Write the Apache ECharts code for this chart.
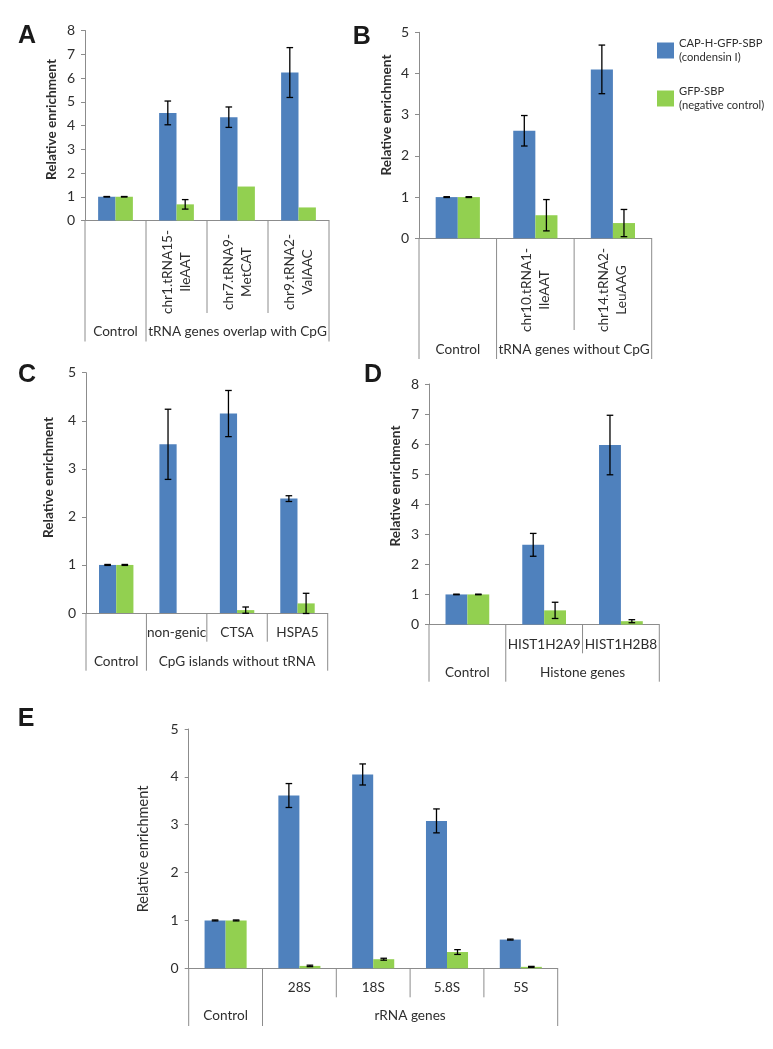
<!DOCTYPE html>
<html><head><meta charset="utf-8">
<script src="https://cdn.jsdelivr.net/npm/echarts@6/dist/echarts.min.js"></script>
<style>html,body{margin:0;padding:0;background:#fff}#c{width:773px;height:1049px}</style>
</head><body><div id="c"></div>
<script>
// ---------- DATA ----------
const seriesNames = ['CAP-H-GFP-SBP (condensin I)', 'GFP-SBP (negative control)'];
const yTitle = 'Relative enrichment';

// Panel A
const catsA = ['', 'chr1.tRNA15-\nIleAAT', 'chr7.tRNA9-\nMetCAT', 'chr9.tRNA2-\nValAAC'];
const groupsA = [['Control', 1], ['tRNA genes overlap with CpG', 3]];
const yTicksA = [0, 1, 2, 3, 4, 5, 6, 7, 8];
const blueA = [1, 4.53, 4.35, 6.23];
const blueErrA = [0.01, 0.5, 0.43, 1.05];
const greenA = [1, 0.68, 1.43, 0.55];
const greenErrA = [0.01, 0.2, null, null];

// Panel B
const catsB = ['', 'chr10.tRNA1-\nIleAAT', 'chr14.tRNA2-\nLeuAAG'];
const groupsB = [['Control', 1], ['tRNA genes without CpG', 2]];
const yTicksB = [0, 1, 2, 3, 4, 5];
const blueB = [1, 2.61, 4.10];
const blueErrB = [0.01, 0.37, 0.59];
const greenB = [1, 0.56, 0.37];
const greenErrB = [0.01, 0.38, 0.33];

// Panel C
const catsC = ['', 'non-genic', 'CTSA', 'HSPA5'];
const groupsC = [['Control', 1], ['CpG islands without tRNA', 3]];
const yTicksC = [0, 1, 2, 3, 4, 5];
const blueC = [1, 3.51, 4.15, 2.38];
const blueErrC = [0.01, 0.73, 0.48, 0.06];
const greenC = [1, 0, 0.06, 0.2];
const greenErrC = [0.01, null, 0.065, 0.21];

// Panel D
const catsD = ['', 'HIST1H2A9', 'HIST1H2B8'];
const groupsD = [['Control', 1], ['Histone genes', 2]];
const yTicksD = [0, 1, 2, 3, 4, 5, 6, 7, 8];
const blueD = [1, 2.65, 5.97];
const blueErrD = [0.01, 0.38, 0.99];
const greenD = [1, 0.47, 0.11];
const greenErrD = [0.01, 0.27, 0.05];

// Panel E
const catsE = ['', '28S', '18S', '5.8S', '5S'];
const groupsE = [['Control', 1], ['rRNA genes', 4]];
const yTicksE = [0, 1, 2, 3, 4, 5];
const blueE = [1, 3.61, 4.05, 3.08, 0.6];
const blueErrE = [0.01, 0.25, 0.22, 0.25, 0.01];
const greenE = [1, 0.05, 0.19, 0.34, 0.03];
const greenErrE = [0.01, 0.015, 0.02, 0.05, 0.01];

// ---------- LAYOUT / STYLE ----------
const BLUE = '#4F81BD', GREEN = '#92D050', AXIS = '#8c8c8c', TXT = '#2e2e2e';
const FONT = 'Lato';
const GAP = 0.43;
const LBL = 13.6;

const panels = [
  {letter:'A', cats:catsA, groups:groupsA, ticks:yTicksA, b:blueA, be:blueErrA, g:greenA, ge:greenErrA,
   grid:{left:85, top:30.5, width:244, height:190}, letterPos:[27,36.5], titlePos:[51.7,119.5],
   rot:true, subOff:51.5, innerLen:92.5, outerLen:121, groupOff:111.5, titleBold:true},
  {letter:'B', cats:catsB, groups:groupsB, ticks:yTicksB, b:blueB, be:blueErrB, g:greenB, ge:greenErrB,
   grid:{left:419, top:32.3, width:232.7, height:206}, letterPos:[361.7,36.7], titlePos:[386.7,115],
   rot:true, subOff:51.7, innerLen:91.7, outerLen:120.7, groupOff:111.7, titleBold:true},
  {letter:'C', cats:catsC, groups:groupsC, ticks:yTicksC, b:blueC, be:blueErrC, g:greenC, ge:greenErrC,
   grid:{left:86, top:372.7, width:241.7, height:240.3}, letterPos:[27,375], titlePos:[48.3,477.5],
   rot:false, subOff:19.3, innerLen:28.7, outerLen:57.7, groupOff:48.7, titleBold:true},
  {letter:'D', cats:catsD, groups:groupsD, ticks:yTicksD, b:blueD, be:blueErrD, g:greenD, ge:greenErrD,
   grid:{left:429, top:384, width:230.3, height:240.5}, letterPos:[373,375], titlePos:[396,486],
   rot:false, subOff:19.8, innerLen:28.8, outerLen:57.2, groupOff:48.2, titleBold:true},
  {letter:'E', cats:catsE, groups:groupsE, ticks:yTicksE, b:blueE, be:blueErrE, g:greenE, ge:greenErrE,
   grid:{left:188.7, top:729, width:369, height:239.3}, letterPos:[26,719], titlePos:[143.3,849],
   rot:false, subOff:19.4, innerLen:29, outerLen:57.7, groupOff:47.7, titleBold:false}
];

function errRender(params, api) {
  const i = api.value(0), v = api.value(1), e = api.value(2), s = api.value(3);
  const bw = api.size([1, 0])[0];
  const barW = bw * (1 - GAP) / 2;
  const p = api.coord([i, v]);
  const x = p[0] + (s === 0 ? -barW / 2 : barW / 2);
  const yt = api.coord([i, v + e])[1], yb = api.coord([i, v - e])[1];
  const cap = 3.3, st = {stroke:'#000', lineWidth:1.3};
  return {type:'group', children:[
    {type:'line', shape:{x1:x, y1:yt, x2:x, y2:yb}, style:st},
    {type:'line', shape:{x1:x-cap, y1:yt, x2:x+cap, y2:yt}, style:st},
    {type:'line', shape:{x1:x-cap, y1:yb, x2:x+cap, y2:yb}, style:st}
  ]};
}

function tableRender(P) {
  const starts = {}; let k = 0;
  P.groups.forEach(g => { starts[k] = g; k += g[1]; });
  const n = P.cats.length;
  return function(params, api) {
    const i = api.value(0);
    const bw = api.size([1, 0])[0];
    const p = api.coord([i, 0]);
    const x0 = p[0] - bw / 2, y0 = p[1];
    const ls = {stroke: AXIS, lineWidth: 1};
    const ch = [];
    const g = starts[i];
    ch.push({type:'line', shape:{x1:x0, y1:y0, x2:x0, y2:y0 + (g ? P.outerLen : P.innerLen)}, style:ls});
    if (i === n - 1) ch.push({type:'line', shape:{x1:x0+bw, y1:y0, x2:x0+bw, y2:y0 + P.outerLen}, style:ls});
    if (P.cats[i]) {
      ch.push({type:'text', x:p[0], y:y0 + P.subOff, rotation: P.rot ? Math.PI/2 : 0,
        style:{text:P.cats[i], fill:TXT, fontFamily:FONT, fontSize:LBL, lineHeight:18, align:'center', verticalAlign:'middle'}});
    }
    if (g) {
      ch.push({type:'text', x:x0 + bw * g[1] / 2, y:y0 + P.groupOff,
        style:{text:g[0], fill:TXT, fontFamily:FONT, fontSize:LBL, align:'center', verticalAlign:'middle'}});
    }
    return {type:'group', children:ch};
  };
}

const option = {
  animation:false,
  backgroundColor:'#fff',
  grid:[], xAxis:[], yAxis:[], series:[], graphic:[],
  legend:{
    orient:'vertical', left:652, top:31, padding:5, itemWidth:17, itemHeight:16, itemGap:19, icon:'rect',
    data:seriesNames, formatter: nm => nm.replace(' (', '\n('),
    textStyle:{fontFamily:FONT, fontSize:11.2, lineHeight:14.5, color:TXT}
  }
};

panels.forEach((P, gi) => {
  option.grid.push(Object.assign({outerBoundsMode:'none'}, P.grid));
  option.xAxis.push({type:'category', gridIndex:gi, data:P.cats,
    axisLine:{show:true, lineStyle:{color:AXIS}}, axisTick:{show:false}, axisLabel:{show:false}, splitLine:{show:false}});
  option.yAxis.push({type:'value', gridIndex:gi, min:P.ticks[0], max:P.ticks[P.ticks.length-1], interval:1,
    axisLine:{show:true, lineStyle:{color:AXIS}}, axisTick:{show:true, length:4, lineStyle:{color:AXIS}},
    splitLine:{show:false},
    axisLabel:{fontFamily:FONT, fontSize:14, color:TXT, margin:10}});
  option.series.push({name:seriesNames[0], type:'bar', xAxisIndex:gi, yAxisIndex:gi, data:P.b,
    itemStyle:{color:BLUE}, barGap:'0%', barCategoryGap:(GAP*100)+'%'});
  option.series.push({name:seriesNames[1], type:'bar', xAxisIndex:gi, yAxisIndex:gi, data:P.g,
    itemStyle:{color:GREEN}, barGap:'0%', barCategoryGap:(GAP*100)+'%'});
  const ed = [];
  P.b.forEach((v, i) => { if (P.be[i] != null) ed.push([i, v, P.be[i], 0]); });
  P.g.forEach((v, i) => { if (P.ge[i] != null) ed.push([i, v, P.ge[i], 1]); });
  option.series.push({type:'custom', xAxisIndex:gi, yAxisIndex:gi, data:ed, renderItem:errRender,
    encode:{x:0, y:1}, z:5, silent:true});
  option.series.push({type:'custom', xAxisIndex:gi, yAxisIndex:gi, data:P.cats.map((c, i) => [i, 0]),
    renderItem:tableRender(P), encode:{x:0, y:1}, clip:false, silent:true});
  option.graphic.push({type:'text', x:P.letterPos[0], y:P.letterPos[1],
    style:{text:P.letter, fontFamily:'Liberation Sans', fontWeight:'bold', fontSize:25, fill:'#1a1a1a', align:'center', verticalAlign:'middle'}});
  option.graphic.push({type:'text', x:P.titlePos[0], y:P.titlePos[1], rotation:Math.PI/2,
    style:{text:yTitle, fontFamily:FONT, fontWeight:P.titleBold ? 'bold' : 'normal', fontSize:P.titleBold ? 13.6 : 14.5, fill:TXT, align:'center', verticalAlign:'middle'}});
});

const chart = echarts.init(document.getElementById('c'), null, {renderer:'canvas'});
chart.setOption(option);
</script>
</body></html>
